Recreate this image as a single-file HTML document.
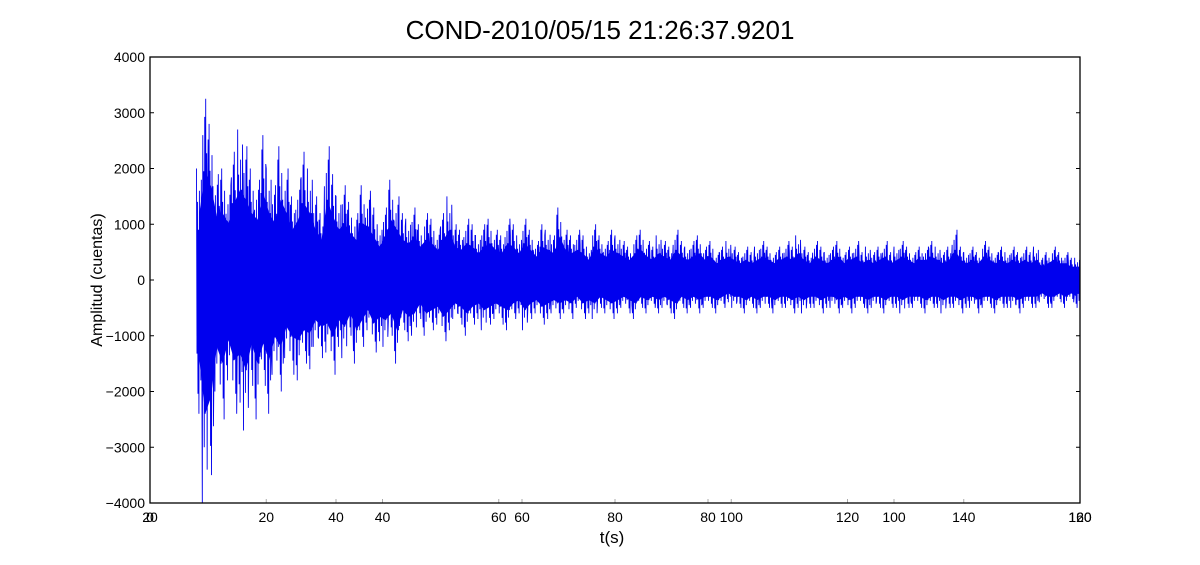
<!DOCTYPE html>
<html><head><meta charset="utf-8"><style>
body{margin:0;background:#fff;width:1200px;height:560px;overflow:hidden}
svg text{font-family:"Liberation Sans",sans-serif;fill:#000}
</style></head><body>
<svg id="chart" width="1200" height="560" viewBox="0 0 1200 560" xmlns="http://www.w3.org/2000/svg">
<text x="600" y="39" font-size="26" text-anchor="middle">COND-2010/05/15 21:26:37.9201</text>
<text transform="translate(102,280) rotate(-90)" font-size="16" text-anchor="middle">Amplitud (cuentas)</text>
<text x="612" y="543" font-size="17" text-anchor="middle">t(s)</text>
<g id="ticks"></g>
<g id="series"></g>
<rect x="150" y="57" width="930" height="446" fill="none" stroke="#000" stroke-width="1.3"/>
</svg>
<script>
const t0 = 8;
const upper = [2000,3250,2800,1900,2000,1700,2300,2700,2400,2000,1800,2600,2000,1700,2400,2000,1500,1800,2300,2000,1500,1200,2400,1900,1500,1700,1400,1200,1700,1600,1300,1000,1300,1800,1500,1200,1100,1300,1000,1200,1100,900,1200,1500,1000,900,1100,1000,800,1000,1100,900,800,1100,1000,800,1100,900,700,1000,900,800,1300,900,800,900,800,600,1000,800,700,900,800,700,600,800,900,700,600,800,700,600,900,700,600,700,800,600,700,500,600,700,600,500,600,500,600,700,600,500,600,700,600,800,600,500,700,600,500,600,700,500,600,700,500,600,500,600,700,500,600,700,600,500,600,600,700,600,500,600,900,600,500,600,500,700,600,500,600,500,600,500,600,500,600,400,500,600,500,500,400,400];
const lower = [-2400,-4000,-3500,-2000,-2500,-1800,-2400,-2200,-2700,-1900,-2500,-1900,-2400,-1700,-2000,-1400,-1700,-1800,-1500,-1600,-1200,-1400,-1300,-1700,-1200,-1400,-1000,-1500,-1200,-900,-1300,-1100,-1200,-1000,-1500,-900,-1100,-1000,-700,-1000,-900,-800,-1100,-900,-700,-800,-1000,-800,-700,-900,-800,-700,-800,-900,-700,-600,-900,-700,-600,-800,-700,-600,-700,-600,-700,-500,-700,-600,-700,-500,-600,-700,-600,-500,-600,-700,-500,-600,-500,-600,-500,-600,-700,-500,-600,-500,-600,-500,-500,-600,-500,-400,-500,-500,-600,-500,-600,-500,-500,-600,-500,-500,-600,-500,-600,-500,-500,-600,-500,-500,-600,-500,-600,-500,-500,-600,-500,-500,-600,-500,-500,-600,-500,-500,-500,-600,-500,-500,-600,-500,-500,-600,-500,-500,-600,-500,-500,-600,-500,-500,-500,-600,-500,-500,-500,-400,-500,-500,-400,-500,-400,-500,-400];
const xTicksA = [0,20,40,60,80,100,120,140,160];
const xTicksB = [20,40,60,80,100,120];
const yTicks = [-4000,-3000,-2000,-1000,0,1000,2000,3000,4000];

const NS='http://www.w3.org/2000/svg';
const X = t => 150 + t*930/160;
const XB = t => 150 + (t-20)*930/100;
const Y = v => 280 - v*446/8000;
const tk = document.getElementById('ticks');
function txt(x,y,s,anchor,name){
  const e=document.createElementNS(NS,'text');
  e.setAttribute('x',x);e.setAttribute('y',y);e.setAttribute('font-size','14');
  e.setAttribute('text-anchor',anchor);e.textContent=s;
  
  
  tk.appendChild(e);
}
function line(x1,y1,x2,y2,c){
  const l=document.createElementNS(NS,'line');
  l.setAttribute('x1',x1);l.setAttribute('y1',y1);l.setAttribute('x2',x2);l.setAttribute('y2',y2);
  l.setAttribute('stroke',c);l.setAttribute('stroke-width','1');
  
  
  tk.appendChild(l);
}
xTicksA.forEach(t=>{txt(X(t),522,String(t),'middle','x-tick-label');line(X(t),503,X(t),499,'#aaa');});
xTicksB.forEach(t=>{txt(XB(t),522,String(t),'middle','x-tick-label');line(XB(t),503,XB(t),499,'#aaa');});
yTicks.forEach(v=>{
  const s=v<0?'\u2212'+Math.abs(v):String(v);
  txt(145,Y(v)+5,s,'end','y-tick-label');
  line(150,Y(v),154,Y(v),'#000');line(1080,Y(v),1076,Y(v),'#000');
});

// rendering-only waveform shape within each 1 s bin (not data)
const shape=[1,-0.55,0.7,-0.85,0.45,-1,0.8,-0.5,0.6,-0.75,0.9,-0.6];
const sg=document.getElementById('series');
let zz='';
const n=Math.min(upper.length,lower.length);
let k=0;
for(let i=0;i<n;i++){
  const m=shape.length;
  for(let j=0;j<m;j++){
    const f=shape[(j+i*5)%m];
    const v=f>0?upper[i]*f:-lower[i]*f;
    const t=t0+i+j/m;
    zz+=(k++?'L':'M')+X(t).toFixed(2)+','+Y(v).toFixed(1);
  }
}
let upPath='',lowPath='';
for(let i=0;i<n;i++){upPath+=(i?'L':'M')+X(t0+i+0.5).toFixed(2)+','+Y(upper[i]*0.6).toFixed(1);}
for(let i=n-1;i>=0;i--){lowPath+='L'+X(t0+i+0.5).toFixed(2)+','+Y(lower[i]*0.6).toFixed(1);}
const cp=document.createElementNS(NS,'path');
cp.setAttribute('d',upPath+lowPath+'Z');cp.setAttribute('fill','#0000ee');


sg.appendChild(cp);
const zp=document.createElementNS(NS,'path');
zp.setAttribute('d',zz);zp.setAttribute('fill','none');zp.setAttribute('stroke','#0000ee');zp.setAttribute('stroke-width','0.9');


sg.appendChild(zp);
</script>
</body></html>
